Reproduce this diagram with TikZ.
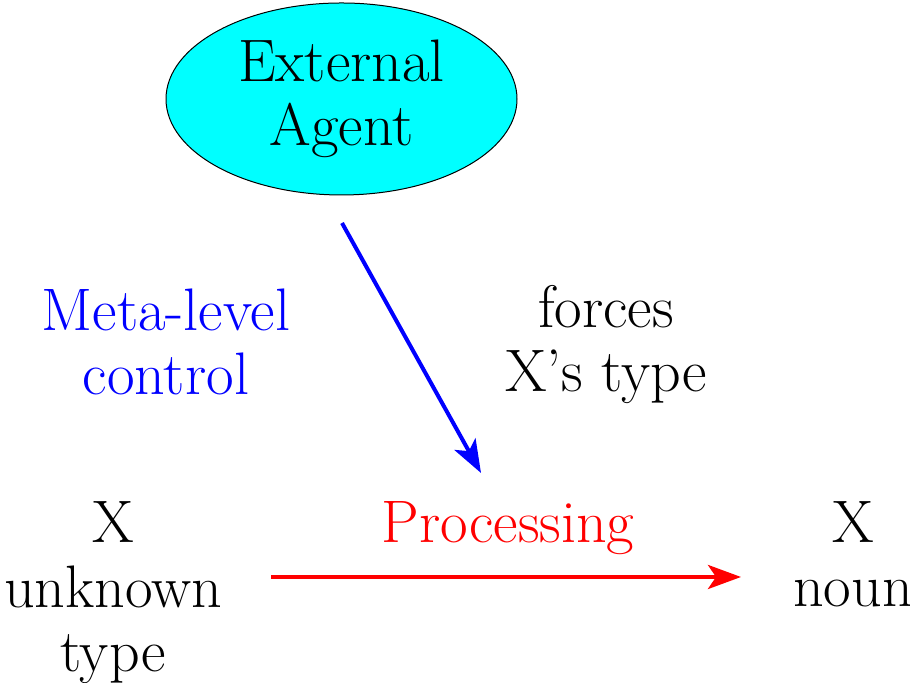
\documentclass[tikz,border=0pt]{standalone}
\usepackage{fontspec}
\usetikzlibrary{shapes.geometric,arrows.meta}
\definecolor{agentcyan}{RGB}{0,255,255}
\tikzset{
  lbl/.style={align=center, inner sep=0pt, anchor=base, font=\fontsize{30}{32.3}\selectfont},
  agentbox/.style={ellipse, draw=black, line width=0.5pt, fill=agentcyan, minimum width=175.5pt, minimum height=96pt, inner sep=0pt, align=center, font=\fontsize{30}{32.3}\selectfont},
  conn/.style={line width=2pt, -{Stealth[length=16.5pt, width=12pt, inset=4pt]}}
}
\begin{document}
\begin{tikzpicture}[x=1pt,y=1pt]
\useasboundingbox (0,0) rectangle (455,341.5);
\node[agentbox] (agent) at (170.75,292) {External\\Agent};
\node[lbl, text=blue] (meta) at (83,144) {Meta-level\\control};
\node[lbl] (forces) at (303,145.5) {forces\\X’s type};
\node[lbl] (xin) at (56.5,5.5) {X\\unknown\\type};
\node[lbl, text=red] (proc) at (254,70) {Processing};
\node[lbl] (xout) at (426.5,38) {X\\noun};
\coordinate (bs) at (171,230);
\coordinate (be) at (240.5,105);
\coordinate (rs) at (135.5,53);
\coordinate (re) at (370.5,53);
\draw[conn, blue] (bs) -- (be);
\draw[conn, red] (rs) -- (re);
\end{tikzpicture}
\end{document}
